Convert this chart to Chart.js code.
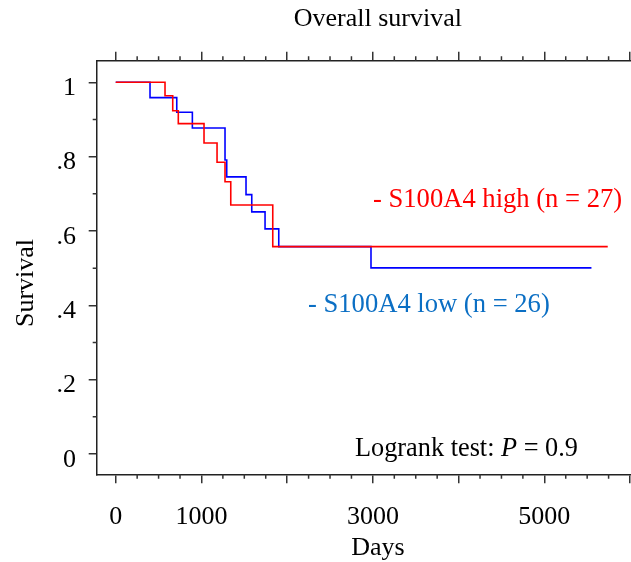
<!DOCTYPE html>
<html><head><meta charset="utf-8">
<script src="https://cdn.jsdelivr.net/npm/chart.js@4/dist/chart.umd.min.js"></script>
<style>
html,body{margin:0;padding:0;overflow:hidden;background:#fff}
#wrap{position:relative;width:659px;height:562px}
</style>
</head><body><div id="wrap"><canvas id="c"></canvas></div>
<script>
// Kaplan-Meier step data
const highDays = [0, 575, 665, 730, 1030, 1182, 1275, 1342, 1832, 5740];
const highSurv = [1, 0.964, 0.9236, 0.8887, 0.8367, 0.7848, 0.7326, 0.6699, 0.558, 0.558];
const lowDays  = [0, 400, 712, 894, 1275, 1295, 1520, 1587, 1742, 1902, 2978, 5550];
const lowSurv  = [1, 0.9587, 0.9194, 0.8772, 0.7911, 0.7455, 0.6978, 0.6513, 0.6056, 0.558, 0.5007, 0.5007];

const xMajorTicks = [0, 1000, 2000, 3000, 4000, 5000, 6000];
const xTickLabels = ['0', '1000', '', '3000', '', '5000', ''];
const xMinorTicks = [250, 500, 750, 1250, 1500, 1750, 2250, 2500, 2750, 3250, 3500, 3750, 4250, 4500, 4750, 5250, 5500, 5750, 6250];
const yMajorTicks = [0, 0.2, 0.4, 0.6, 0.8, 1];
const yTickLabels = ['0', '.2', '.4', '.6', '.8', '1'];
const yMinorTicks = [0.1, 0.3, 0.5, 0.7, 0.9];

const seriesHigh = 'S100A4 high (n = 27)';
const seriesLow = 'S100A4 low (n = 26)';

const FAM = "'Liberation Serif', 'Times New Roman', serif";
const AXIS = '#222';

function pts(xs, ys) { return xs.map((v, i) => ({x: v, y: ys[i]})); }

const extras = {
  id: 'extras',
  afterDraw(chart) {
    const {ctx, scales} = chart;
    const x = scales.x, y = scales.y;
    const a = chart.chartArea;
    ctx.save();
    // minor ticks
    ctx.strokeStyle = '#333';
    ctx.lineWidth = 1.5;
    ctx.beginPath();
    for (const v of xMinorTicks) {
      const px = x.getPixelForValue(v);
      ctx.moveTo(px, a.bottom); ctx.lineTo(px, a.bottom + 4.5);
      ctx.moveTo(px, a.top); ctx.lineTo(px, a.top - 4.5);
    }
    for (const v of yMinorTicks) {
      const py = y.getPixelForValue(v);
      ctx.moveTo(a.left, py); ctx.lineTo(a.left - 4, py);
    }
    ctx.stroke();

    // y axis title
    ctx.fillStyle = '#000';
    ctx.font = '26px ' + FAM;
    ctx.save();
    ctx.translate(26.5, 283);
    ctx.rotate(-Math.PI / 2);
    ctx.textAlign = 'center';
    ctx.textBaseline = 'middle';
    ctx.fillText('Survival', 0, 0);
    ctx.restore();

    // series labels
    ctx.textAlign = 'left';
    ctx.textBaseline = 'alphabetic';
    ctx.font = '26.6px ' + FAM;
    ctx.fillStyle = '#ff0000';
    ctx.fillText('- ' + seriesHigh, 373, 207);
    ctx.fillStyle = '#0b6fc4';
    ctx.fillText('- ' + seriesLow, 308, 312);

    // logrank
    ctx.fillStyle = '#000';
    ctx.font = '26.3px ' + FAM;
    let tx = 355;
    const base = 455.5;
    const t1 = 'Logrank test: ';
    ctx.fillText(t1, tx, base);
    tx += ctx.measureText(t1).width;
    ctx.font = 'italic 26.3px ' + FAM;
    ctx.fillText('P', tx, base);
    tx += ctx.measureText('P').width;
    ctx.font = '26.3px ' + FAM;
    ctx.fillText(' = 0.9', tx, base);
    ctx.restore();
  }
};

function setTicks(vals) {
  return function (scale) { scale.ticks = vals.map(v => ({value: v})); };
}

new Chart(document.getElementById('c'), {
  type: 'line',
  data: {
    datasets: [
      {label: seriesHigh, data: pts(highDays, highSurv), borderColor: '#ff0000', borderWidth: 1.6,
       stepped: 'before', pointRadius: 0, fill: false, tension: 0},
      {label: seriesLow, data: pts(lowDays, lowSurv), borderColor: '#0000ff', borderWidth: 1.6,
       stepped: 'before', pointRadius: 0, fill: false, tension: 0}
    ]
  },
  options: {
    responsive: true,
    maintainAspectRatio: false,
    animation: false,
    devicePixelRatio: 1,
    layout: {padding: 0},
    plugins: {
      legend: {display: false},
      tooltip: {enabled: false},
      title: {
        display: true, text: 'Overall survival', fullSize: false, color: '#000',
        font: {family: FAM, size: 26, weight: 'normal', lineHeight: 1.2},
        padding: {top: 3.4, bottom: 17.1}
      }
    },
    scales: {
      x: {
        type: 'linear', position: 'bottom', min: -222, max: 6338,
        afterBuildTicks: setTicks(xMajorTicks),
        afterFit(s) { s.height = 87.7; },
        grid: {drawOnChartArea: false, drawTicks: true, tickLength: 9, color: '#333', lineWidth: 1.5},
        border: {display: true, color: AXIS, width: 1.5},
        ticks: {
          color: '#000', font: {family: FAM, size: 26}, padding: 18, maxRotation: 0, autoSkip: false,
          callback: (v, i) => xTickLabels[i]
        },
        title: {display: true, text: 'Days', color: '#000', font: {family: FAM, size: 26, lineHeight: 1}, padding: {top: 4, bottom: 0.5}}
      },
      x2: {
        type: 'linear', position: 'top', min: -222, max: 6338,
        afterBuildTicks: setTicks(xMajorTicks),
        afterFit(s) { s.height = 9; },
        grid: {drawOnChartArea: false, drawTicks: true, tickLength: 9, color: '#333', lineWidth: 1.5},
        border: {display: true, color: AXIS, width: 1.5},
        ticks: {display: false}
      },
      y: {
        type: 'linear', position: 'left', min: -0.0546, max: 1.0581,
        afterBuildTicks: setTicks(yMajorTicks),
        afterFit(s) { s.width = 96.7; },
        grid: {drawOnChartArea: false, drawTicks: true, tickLength: 8, color: '#333', lineWidth: 1.5},
        border: {display: true, color: AXIS, width: 1.5},
        ticks: {
          color: '#000', font: {family: FAM, size: 26}, padding: 12.7, labelOffset: 6, autoSkip: false,
          callback: (v, i) => yTickLabels[i]
        }
      }
    }
  },
  plugins: [extras]
});
</script>
</body></html>
